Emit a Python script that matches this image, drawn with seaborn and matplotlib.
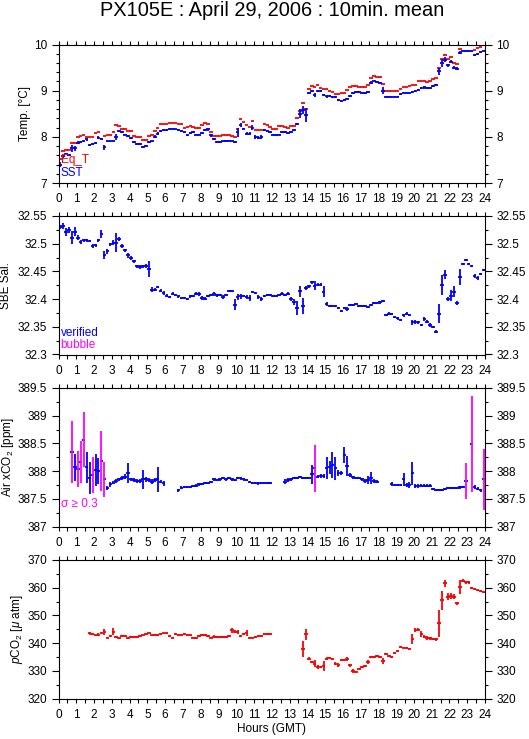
import numpy as np
import pandas as pd
import matplotlib
matplotlib.use("Agg")
import matplotlib.pyplot as plt
from matplotlib.ticker import MultipleLocator, FuncFormatter
import seaborn as sns

nan = np.nan

# 10-min bins, 6 per hour (one row per hour)
sst = [
    7.40, 7.58, 7.62, 7.60, 7.75, 7.75,
    7.87, 7.88, 7.90, 7.95, 7.83, 7.85,
    7.87, 7.98, 7.96, 7.77, 7.90, 7.90,
    7.92, 8.00, 8.12, 8.10, 8.05, 8.02,
    7.98, 7.88, 7.85, 7.84, 7.78, 7.80,
    7.88, 7.90, 8.00, 8.07, 8.13, 8.15,
    8.15, 8.17, 8.18, 8.16, 8.14, 8.13,
    8.10, 8.03, 8.08, 8.10, 8.05, 8.05,
    8.08, 8.15, 8.16, 8.03, 7.95, 7.88,
    7.88, 7.90, 7.91, 7.92, 7.90, 7.88,
    8.10, 8.26, 8.18, 8.07, 8.07, 8.20,
    8.00, 7.98, 8.00, 8.15, 8.12, 8.10,
    8.05, 8.03, 8.05, 8.10, 8.10, 8.08,
    8.10, 8.15, 8.28, 8.50, 8.58, 8.48,
    8.95, 9.00, 8.90, 9.00, 9.00, 8.90,
    8.88, 8.88, 8.87, 8.86, 8.80, 8.78,
    8.80, 8.83, 8.88, 8.95, 8.98, 8.98,
    8.96, 8.94, 8.97, 9.17, 9.20, 9.18,
    9.17, 9.00, 8.87, 8.87, 8.87, 8.87,
    8.87, 8.93, 8.96, 8.96, 8.96, 8.98,
    9.00, 9.02, 9.06, 9.07, 9.05, 9.06,
    9.10, 9.13, 9.42, 9.60, 9.67, 9.55,
    9.63, 9.50, 9.48, 9.82, 9.87, 9.87,
    9.87, 9.85, 9.77, 9.80, 9.83, 9.87,
]
sst_err = [
    .05, .03, .02, .02, .08, .05,
    .03, .02, .02, .03, .02, .02,
    .02, .03, .02, .05, .02, .02,
    .02, .07, .02, .02, .02, .02,
    .02, .02, .02, .02, .02, .03,
    .02, .02, .03, .03, .02, .02,
    .02, .02, .02, .02, .02, .02,
    .02, .02, .02, .02, .02, .02,
    .02, .03, .03, .03, .02, .02,
    .02, .02, .02, .02, .02, .02,
    .10, .04, .02, .04, .03, .05,
    .04, .03, .04, .02, .02, .02,
    .02, .02, .02, .02, .02, .02,
    .02, .03, .03, .10, .08, .15,
    .03, .02, .04, .02, .02, .02,
    .03, .02, .02, .02, .02, .02,
    .02, .02, .02, .02, .02, .02,
    .02, .02, .03, .03, .02, .02,
    .02, .08, .01, .01, .01, .01,
    .01, .02, .02, .02, .02, .02,
    .02, .02, .03, .03, .02, .02,
    .02, .02, .08, .09, .05, .03,
    .04, .03, .03, .03, .02, .02,
    .02, .02, .02, .02, .02, .02,
]
eq_t = [
    7.52, 7.70, 7.72, 7.72, 7.87, 7.87,
    8.00, 8.02, 8.05, 8.00, 8.00, 8.00,
    8.08, 8.10, 7.95, 8.02, 8.05, 8.05,
    8.10, 8.25, 8.23, 8.18, 8.18, 8.13,
    8.12, 8.02, 8.00, 8.00, 7.93, 7.93,
    8.02, 8.05, 8.13, 8.20, 8.27, 8.28,
    8.28, 8.30, 8.30, 8.30, 8.28, 8.27,
    8.20, 8.22, 8.24, 8.21, 8.20, 8.20,
    8.25, 8.30, 8.28, 8.10, 8.02, 8.02,
    8.02, 8.03, 8.05, 8.03, 8.02, 8.00,
    8.18, 8.38, 8.33, 8.25, 8.22, 8.35,
    8.15, 8.15, 8.15, 8.28, 8.25, 8.22,
    8.18, 8.18, 8.23, 8.23, 8.22, 8.20,
    8.23, 8.23, 8.40, 8.55, 8.73, 8.60,
    9.03, 9.10, 9.07, 9.12, 9.05, 9.03,
    9.03, 9.00, 8.98, 8.92, 8.92, 8.95,
    8.95, 9.02, 9.08, 9.10, 9.10, 9.08,
    9.08, 9.08, 9.12, 9.27, 9.32, 9.30,
    9.30, 9.15, 9.00, 9.00, 9.00, 9.00,
    9.00, 9.03, 9.08, 9.08, 9.10, 9.13,
    9.13, 9.20, 9.20, 9.20, 9.18, 9.22,
    9.25, 9.27, 9.50, 9.68, 9.78, 9.68,
    9.72, 9.60, 9.58, 9.90, 9.98, 9.98,
    9.98, 9.98, 9.88, 9.92, 9.95, 9.98,
]
sal = [
    32.530, 32.532, 32.521, 32.525, 32.511, 32.522,
    32.511, 32.503, 32.506, 32.506, 32.505, 32.496,
    32.497, 32.506, 32.517, 32.479, 32.486, 32.499,
    32.502, 32.502, 32.508, 32.496, 32.488, 32.479,
    32.474, 32.468, 32.459, 32.458, 32.459, 32.460,
    32.454, 32.417, 32.417, 32.422, 32.415, 32.411,
    32.406, 32.404, 32.410, 32.408, 32.405, 32.402,
    32.402, 32.400, 32.405, 32.406, 32.410, 32.409,
    32.402, 32.401, 32.405, 32.408, 32.409, 32.407,
    32.407, 32.404, 32.408, 32.414, 32.414, 32.390,
    32.404, 32.405, 32.406, 32.404, 32.402, 32.413,
    32.411, 32.404, 32.400, 32.406, 32.408, 32.407,
    32.405, 32.405, 32.408, 32.410, 32.407, 32.410,
    32.400, 32.395, 32.384, 32.414, 32.388, 32.420,
    32.423, 32.430, 32.424, 32.426, 32.426, 32.413,
    32.391, 32.388, 32.388, 32.388, 32.384, 32.379,
    32.384, 32.382, 32.390, 32.390, 32.391, 32.388,
    32.388, 32.387, 32.386, 32.390, 32.393, 32.393,
    32.394, 32.396, 32.371, 32.374, 32.373, 32.367,
    32.365, 32.362, 32.371, 32.374, 32.371, 32.358,
    32.359, 32.358, 32.353, 32.364, 32.359, 32.353,
    32.349, 32.341, 32.374, 32.426, 32.444, 32.400,
    32.406, 32.413, 32.393, 32.440, 32.464, 32.470,
    32.464, 32.460, 32.442, 32.438, 32.446, 32.452,
]
sal_err = [
    .004, .005, .008, .006, .012, .008,
    .004, .003, .003, .003, .002, .004,
    .003, .003, .007, .007, .004, .003,
    .004, .017, .004, .003, .003, .004,
    .004, .003, .003, .003, .003, .003,
    .015, .004, .003, .002, .003, .003,
    .003, .002, .002, .002, .003, .002,
    .002, .002, .003, .002, .003, .003,
    .003, .003, .002, .002, .003, .003,
    .002, .003, .002, .002, .002, .010,
    .006, .004, .002, .004, .006, .002,
    .002, .004, .004, .002, .002, .002,
    .002, .002, .002, .002, .002, .003,
    .004, .005, .012, .010, .014, .003,
    .003, .003, .008, .003, .003, .010,
    .003, .002, .002, .002, .002, .002,
    .002, .003, .002, .002, .002, .002,
    .002, .002, .002, .002, .002, .002,
    .002, .002, .002, .002, .002, .002,
    .002, .002, .003, .003, .002, .004,
    .004, .003, .002, .003, .003, .003,
    .002, .003, .018, .018, .008, .004,
    .010, .010, .003, .015, .002, .002,
    .002, .002, .004, .003, .002, .002,
]
xco2 = [
    nan, nan, nan, nan, 388.34, 388.07,
    388.04, 388.16, 388.57, 388.07, 387.88, 387.93,
    388.02, 388.00, 388.18, 387.85, 387.70, 387.76,
    387.79, 387.82, 387.85, 387.88, 387.90, 387.97,
    387.85, 387.84, 387.82, 387.82, 387.85, 387.85,
    387.84, 387.81, 387.84, 387.85, 387.81, 387.78,
    nan, nan, nan, nan, 387.65, 387.70,
    387.71, 387.71, 387.71, 387.73, 387.74, 387.76,
    387.77, 387.78, 387.79, 387.81, 387.85, 387.84,
    387.85, 387.87, 387.85, 387.87, 387.85, 387.84,
    387.87, 387.87, 387.85, 387.84, 387.81, 387.79,
    387.79, 387.78, 387.79, 387.79, 387.79, 387.78,
    nan, nan, nan, nan, 387.81, 387.84,
    387.85, 387.87, 387.87, 387.89, 387.87, 387.87,
    387.87, 387.94, 388.05, 387.90, 387.91, 387.91,
    388.05, 388.07, 388.11, 388.05, 387.97, 387.97,
    388.29, 388.09, 387.93, 387.89, 387.87, 387.87,
    387.85, 387.82, 387.84, 387.87, 387.82, 387.81,
    nan, nan, nan, nan, 387.77, 387.75,
    387.75, 387.75, 387.85, 387.75, 387.75, 387.96,
    387.73, 387.73, 387.74, 387.74, 387.74, 387.74,
    387.67, 387.66, 387.66, 387.66, 387.68, 387.69,
    387.69, 387.69, 387.69, 387.71, 387.71, 387.82,
    nan, 388.49, 387.71, 387.68, 387.65, 387.85,
]
xco2_err = [
    0, 0, 0, 0, .56, .24,
    .33, .38, .49, .28, .29, .32,
    .28, .24, .54, .32, .04, .04,
    .03, .03, .03, .04, .05, .18,
    .03, .03, .03, .03, .17, .04,
    .04, .04, .03, .22, .03, .04,
    0, 0, 0, 0, .02, .03,
    .02, .02, .02, .02, .02, .02,
    .02, .02, .02, .02, .02, .02,
    .02, .02, .02, .02, .02, .02,
    .02, .03, .02, .02, .02, .02,
    .02, .03, .02, .02, .02, .02,
    0, 0, 0, 0, .04, .03,
    .03, .02, .02, .02, .02, .02,
    .02, .17, .42, .03, .03, .03,
    .20, .12, .24, .21, .05, .04,
    .15, .18, .03, .03, .02, .02,
    .03, .03, .08, .11, .03, .03,
    0, 0, 0, 0, .03, .02,
    .02, .02, .12, .03, .06, .21,
    .03, .03, .03, .02, .02, .02,
    .02, .02, .02, .02, .02, .02,
    .02, .02, .02, .03, .02, .33,
    0, .86, .04, .03, .02, .55,
]
pco2 = [
    nan, nan, nan, nan, nan, nan,
    nan, nan, nan, nan, 343.5, 343.2,
    342.8, 343.1, 343.5, 344.1, 342.0, 342.5,
    344.1, 342.3, 341.7, 342.5, 342.5, 341.9,
    342.3, 342.3, 342.3, 342.5, 342.8, 343.2,
    343.5, 342.8, 343.0, 343.0, 343.2, 343.5,
    343.5, 342.5, 342.0, 343.2, 343.0, 343.0,
    343.2, 343.0, 342.8, 342.0, 341.7, 342.6,
    343.0, 343.0, 342.6, 342.0, 342.3, 342.3,
    342.3, 342.3, 342.3, 342.5, 344.7, 344.1,
    344.0, 342.5, 343.2, 343.7, 342.0, 342.0,
    342.3, 342.5, 342.5, 343.2, 343.2, 343.2,
    nan, nan, nan, nan, nan, nan,
    nan, nan, nan, nan, 337.8, 343.2,
    334.4, 333.2, 332.6, 331.4, 331.4, 331.6,
    334.4, 334.6, 334.4, 332.6, 332.0, 333.8,
    333.8, 334.4, 332.0, 329.9, 329.7, 330.8,
    331.4, 331.7, 333.2, 335.0, 335.0, 335.3,
    335.0, 333.6, 336.0, 335.3, 335.0, 336.5,
    337.2, 338.6, 338.4, 338.2, 338.0, 341.4,
    344.7, 344.9, 343.2, 342.3, 341.7, 341.7,
    341.5, 341.3, 347.1, 355.4, 361.6, 356.8,
    357.0, 356.8, 354.4, 360.2, 362.5, 361.9,
    361.9, 359.8, 359.7, 359.0, 358.9, 358.3,
]
pco2_err = [
    0, 0, 0, 0, 0, 0,
    0, 0, 0, 0, .4, .3,
    .3, .4, .3, 1.0, .3, .3,
    1.2, .4, .3, .3, .3, .3,
    .3, .3, .3, .3, .3, .3,
    .3, .3, .3, .3, .3, .3,
    .3, .3, .3, .3, .3, .3,
    .3, .3, .3, .3, .3, .3,
    .3, .3, .3, .3, .5, .3,
    .3, .3, .3, .3, .9, .5,
    .6, .3, .3, 1.0, .3, .3,
    .3, .3, .3, .3, .3, .3,
    0, 0, 0, 0, 0, 0,
    0, 0, 0, 0, 2.8, 2.0,
    .5, .5, 1.2, .7, .5, 1.8,
    .5, .5, .4, .5, .8, .3,
    .3, .7, .5, .7, .3, .3,
    .4, .3, .8, .3, .3, .3,
    .3, 1.0, .3, .3, .3, .3,
    .3, .3, .3, .3, .3, 1.8,
    .6, .5, 1.0, .5, .7, .5,
    .3, .4, 5.0, 3.5, 1.2, 1.2,
    1.2, 1.0, .5, 2.5, .6, .5,
    .5, .3, .3, .3, .3, .3,
]

BLUE = "#0000ff"
RED = "#ff0000"
MAGENTA = "#ff00ff"
HALF_BIN = 0.1  # half width of the horizontal bar (hours)

sns.set_theme(style="ticks", rc={
    "axes.edgecolor": "black", "axes.linewidth": 0.8,
    "xtick.color": "black", "ytick.color": "black",
    "text.color": "black", "axes.labelcolor": "black",
})
plt.rcParams["font.family"] = ["Liberation Sans", "DejaVu Sans"]
plt.rcParams["mathtext.fontset"] = "custom"
plt.rcParams["mathtext.rm"] = "Liberation Sans"
plt.rcParams["mathtext.it"] = "Liberation Sans:italic"

df = pd.DataFrame({
    "hour": (np.arange(144) + 0.5) / 6,
    "sst": sst, "sst_err": sst_err, "eq_t": eq_t,
    "sal": sal, "sal_err": sal_err,
    "xco2": xco2, "xco2_err": xco2_err,
    "pco2": pco2, "pco2_err": pco2_err,
})

W, H = 529, 739
fig = plt.figure(figsize=(W / 100, H / 100), dpi=100)
left, right = 58.5, 485
tops = [44.5, 216, 388, 560]
ph = 138.5
axes = [fig.add_axes([left / W, 1 - (t + ph) / H, (right - left) / W, ph / H]) for t in tops]

fmt = FuncFormatter(lambda v, p: f"{v:g}")


def style(ax, ylim, major, minor, ylabel, label_right_px):
    ax.set_xlim(0, 24)
    ax.set_ylim(*ylim)
    ax.xaxis.set_major_locator(MultipleLocator(1))
    ax.xaxis.set_minor_locator(MultipleLocator(0.5))
    ax.yaxis.set_major_locator(MultipleLocator(major))
    ax.yaxis.set_minor_locator(MultipleLocator(minor))
    ax.yaxis.set_major_formatter(fmt)
    ax.tick_params(axis="x", which="both", direction="out", length=3.2, width=0.8,
                   top=True, bottom=True, labelsize=8.5, pad=4)
    ax.tick_params(axis="y", which="major", direction="out", length=5, width=0.8,
                   left=True, right=True, labelleft=True, labelright=True,
                   labelsize=8.5, pad=3)
    ax.tick_params(axis="y", which="minor", direction="out", length=2.5, width=0.8,
                   left=True, right=True)
    ax.set_ylabel(ylabel, fontsize=8.5)
    ax.yaxis.set_label_coords((label_right_px - left) / (right - left), 0.5)
    for s in ax.spines.values():
        s.set_visible(True)


lw = 1.3

# panel 1: temperatures
ax = axes[0]
ax.errorbar(df["hour"], df["eq_t"], xerr=HALF_BIN, fmt="none", ecolor=RED, elinewidth=lw)
ax.errorbar(df["hour"], df["sst"], xerr=HALF_BIN, yerr=df["sst_err"], fmt="none",
            ecolor=BLUE, elinewidth=lw)
style(ax, (7, 10), 1, 0.2, "Temp. [°C]", 31)
ax.text(0.005, 0.144, "Eq_T", color=RED, fontsize=8.5, transform=ax.transAxes, va="baseline")
ax.text(0.005, 0.05, "SST", color=BLUE, fontsize=8.5, transform=ax.transAxes, va="baseline")

# panel 2: salinity
ax = axes[1]
ax.errorbar(df["hour"], df["sal"], xerr=HALF_BIN, yerr=df["sal_err"], fmt="none",
            ecolor=BLUE, elinewidth=lw)
style(ax, (32.3, 32.55), 0.05, 0.025, "SBE Sal.", 12.5)
ax.text(0.005, 0.136, "verified", color=BLUE, fontsize=8.5, transform=ax.transAxes, va="baseline")
ax.text(0.005, 0.047, "bubble", color=MAGENTA, fontsize=8.5, transform=ax.transAxes, va="baseline")

# panel 3: air xCO2, vertical bar magenta when sigma >= 0.3
ax = axes[2]
flag = df["xco2_err"] >= 0.3
ok = df[~flag]
bad = df[flag]
ax.errorbar(df["hour"], df["xco2"], xerr=HALF_BIN, fmt="none", ecolor=BLUE, elinewidth=lw)
ax.errorbar(ok["hour"], ok["xco2"], yerr=ok["xco2_err"], fmt="none", ecolor=BLUE, elinewidth=lw)
ax.errorbar(bad["hour"], bad["xco2"], yerr=bad["xco2_err"], fmt="none", ecolor=MAGENTA, elinewidth=lw)
style(ax, (387, 389.5), 0.5, 0.25, "Air xCO$_2$ [ppm]", 16.5)
ax.text(0.005, 0.139, "σ ≥ 0.3", color=MAGENTA, fontsize=8.5, transform=ax.transAxes, va="baseline")

# panel 4: pCO2
ax = axes[3]
ax.errorbar(df["hour"], df["pco2"], xerr=HALF_BIN, yerr=df["pco2_err"], fmt="none",
            ecolor=RED, elinewidth=lw)
style(ax, (320, 370), 10, 5, "$p$CO$_2$ [$\\mu$ atm]", 25)

cx = (left + right) / 2 / W
fig.text(cx, 1 - 10 / H, "PX105E : April 29, 2006 : 10min. mean", ha="center", va="center",
         fontsize=14.4)
fig.text(cx, 1 - 729 / H, "Hours (GMT)", ha="center", va="center", fontsize=8.5)

fig.savefig("out.png", dpi=100)
